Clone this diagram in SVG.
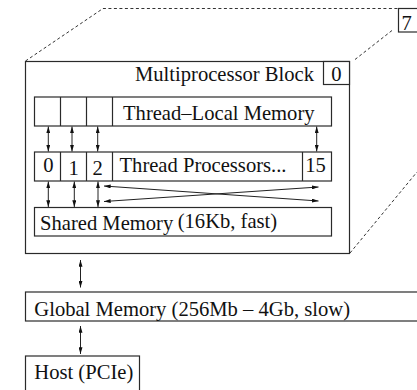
<svg xmlns="http://www.w3.org/2000/svg" width="417" height="390" viewBox="0 0 417 390">
  <style>
    .box { fill: #fff; stroke: #2a2a2a; stroke-width: 1.2; }
    .lbl { font-family: "Liberation Serif", "Times New Roman", serif; font-size: 20.6px; fill: #111; }
    .dash { fill: none; stroke: #333; stroke-width: 1; stroke-dasharray: 3 2.5; }
    .link { fill: none; stroke: #222; stroke-width: 1; marker-start: url(#head); marker-end: url(#head); }
  </style>
  <defs>
    <marker id="head" viewBox="0 0 10 6" refX="10" refY="3" markerWidth="7" markerHeight="4" markerUnits="userSpaceOnUse" orient="auto-start-reverse">
      <path d="M0,0 L10,3 L0,6 Z" fill="#111"/>
    </marker>
  </defs>
  <rect width="417" height="390" fill="#fff"/>

  <!-- stacked blocks behind the front one -->
  <g id="block-stack">
    <polyline class="dash" points="25.5,61 103,8.5 398,8.5"/>
    <line class="dash" x1="355" y1="59.5" x2="392" y2="30.5"/>
    <line class="dash" x1="350" y1="253" x2="417" y2="172"/>
    <g id="block-7">
      <rect class="box" x="398.5" y="8.5" width="25" height="23.5"/>
      <text class="lbl" x="401.5" y="30">7</text>
    </g>
  </g>

  <!-- front multiprocessor block -->
  <g id="multiprocessor-block">
    <rect class="box" x="25.5" y="61.5" width="324" height="192"/>
    <text class="lbl" x="314" y="81" text-anchor="end">Multiprocessor Block</text>
    <rect class="box" x="323.5" y="61.5" width="26" height="23"/>
    <text class="lbl" x="336.5" y="81" text-anchor="middle">0</text>
  </g>

  <g id="thread-local-memory">
    <rect class="box" x="34.5" y="97" width="297" height="29"/>
    <line class="box" x1="60.5" y1="97" x2="60.5" y2="126"/>
    <line class="box" x1="86.5" y1="97" x2="86.5" y2="126"/>
    <line class="box" x1="112.5" y1="97" x2="112.5" y2="126"/>
    <text class="lbl" x="123" y="120">Thread–Local Memory</text>
  </g>

  <g id="thread-processors">
    <rect class="box" x="34.5" y="152" width="297" height="29"/>
    <line class="box" x1="60.5" y1="152" x2="60.5" y2="181"/>
    <line class="box" x1="86.5" y1="152" x2="86.5" y2="181"/>
    <line class="box" x1="112.5" y1="152" x2="112.5" y2="181"/>
    <line class="box" x1="302.5" y1="152" x2="302.5" y2="181"/>
    <text class="lbl" x="48.3" y="172" text-anchor="middle">0</text>
    <text class="lbl" x="73.7" y="174.5" text-anchor="middle">1</text>
    <text class="lbl" x="97.7" y="174.5" text-anchor="middle">2</text>
    <text class="lbl" x="119.5" y="172">Thread Processors...</text>
    <text class="lbl" x="315.5" y="172" text-anchor="middle">15</text>
  </g>

  <g id="shared-memory">
    <rect class="box" x="34.5" y="207.5" width="297" height="28.5"/>
    <text class="lbl" x="40" y="230">Shared Memory</text>
    <text class="lbl" x="177.7" y="227.5">(16Kb, fast)</text>
  </g>

  <g id="global-memory">
    <rect class="box" x="25.5" y="292" width="400" height="29"/>
    <text class="lbl" x="34.3" y="316">Global Memory (256Mb – 4Gb, slow)</text>
  </g>

  <g id="host">
    <rect class="box" x="25.5" y="356" width="114" height="40"/>
    <text class="lbl" x="34.3" y="379">Host (PCIe)</text>
  </g>

  <!-- data paths -->
  <g id="connectors">
    <line class="link" x1="48.3" y1="126.5" x2="48.3" y2="151.5"/>
    <line class="link" x1="72" y1="126.5" x2="72" y2="151.5"/>
    <line class="link" x1="97.7" y1="126.5" x2="97.7" y2="151.5"/>
    <line class="link" x1="316.7" y1="126.5" x2="316.7" y2="151.5"/>
    <line class="link" x1="48.3" y1="181.5" x2="48.3" y2="207"/>
    <line class="link" x1="74.3" y1="181.5" x2="74.3" y2="207"/>
    <line class="link" x1="98" y1="181.5" x2="98" y2="207"/>
    <line class="link" x1="104" y1="186" x2="318.5" y2="201"/>
    <line class="link" x1="104" y1="201.5" x2="318.5" y2="187"/>
    <line class="link" x1="80.5" y1="260" x2="80.5" y2="287.5"/>
    <line class="link" x1="80.5" y1="326" x2="80.5" y2="354"/>
  </g>
</svg>
